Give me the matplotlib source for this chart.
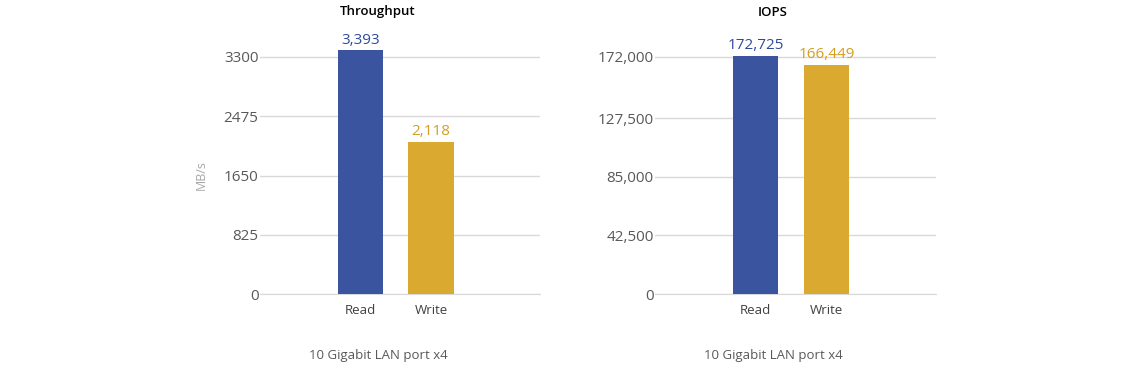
import matplotlib
matplotlib.use("Agg")
import matplotlib.pyplot as plt

categories = ["Read", "Write"]
throughput = [3393, 2118]
iops = [172725, 166449]
tp_ticks = [0, 825, 1650, 2475, 3300]
tp_tick_labels = ["0", "825", "1650", "2475", "3300"]
iops_ticks = [0, 42500, 85000, 127500, 172000]
iops_tick_labels = ["0", "42,500", "85,000", "127,500", "172,000"]

plt.rcParams['font.family'] = ['Open Sans', 'DejaVu Sans']

BLUE = "#3A54A0"
GOLD = "#DAAA30"
BLUE_TXT = "#2E4A9E"
GOLD_TXT = "#D69E1E"
GRID = "#D9D9D9"
TICK = "#595959"

W, H = 1140, 367
fig = plt.figure(figsize=(W / 100, H / 100), dpi=100)

def px_axes(x0, x1, ytop, ybot):
    return fig.add_axes([x0 / W, 1 - ybot / H, (x1 - x0) / W, (ybot - ytop) / H])

def setup(ax, vals, ticks, labels, top_val, fmt, xlim, title, title_x):
    x = range(len(vals))
    bars = ax.bar(x, vals, width=0.64, color=[BLUE, GOLD], zorder=3)
    ax.set_xlim(*xlim)
    ax.set_ylim(0, top_val)
    ax.set_yticks(ticks)
    ax.set_yticklabels(labels, color=TICK, fontsize=11)
    ax.set_xticks(list(x))
    ax.set_xticklabels(categories, color="#404040", fontsize=9.5)
    ax.tick_params(axis="both", length=0)
    ax.tick_params(axis="y", pad=1)
    ax.tick_params(axis="x", pad=7)
    for s in ["top", "right", "left"]:
        ax.spines[s].set_visible(False)
    ax.spines["bottom"].set_color(GRID)
    ax.grid(axis="y", color=GRID, linewidth=1, zorder=0)
    ax.set_axisbelow(True)
    for b, v, c in zip(bars, vals, [BLUE_TXT, GOLD_TXT]):
        ax.annotate(fmt(v), (b.get_x() + b.get_width() / 2, v), xytext=(0, 2),
                    textcoords="offset points", ha="center", va="bottom",
                    color=c, fontsize=11)
    fig.text(title_x / W, 1 - 12 / H, title, ha="center", va="center",
             fontsize=9.5, fontweight="semibold", color="black")

# Throughput axes: y=0 at px 294, 3300 at px 57
scale_tp = (294 - 57) / 3300
top_tp = 3300 + (57 - 49) / scale_tp
ax1 = px_axes(260, 540, 49, 294)
setup(ax1, throughput, tp_ticks, tp_tick_labels, top_tp,
      lambda v: f"{v:,}", (-1.426, 2.546), "Throughput", 378)
ax1.set_ylabel("MB/s", color="#A6A6A6", fontsize=9)
ax1.yaxis.set_label_coords((208 - 260) / 280, (294 - 175) / (294 - 49))

scale_io = (294 - 57) / 172000
top_io = 172000 + (57 - 49) / scale_io
ax2 = px_axes(655, 936, 49, 294)
setup(ax2, iops, iops_ticks, iops_tick_labels, top_io,
      lambda v: f"{v:,}", (-1.415, 2.543), "IOPS", 773)

fig.text(378 / W, 1 - 355 / H, "10 Gigabit LAN port x4", ha="center", va="center",
         fontsize=9.5, color=TICK)
fig.text(773 / W, 1 - 355 / H, "10 Gigabit LAN port x4", ha="center", va="center",
         fontsize=9.5, color=TICK)

fig.savefig("out.png", dpi=100, facecolor="white")
